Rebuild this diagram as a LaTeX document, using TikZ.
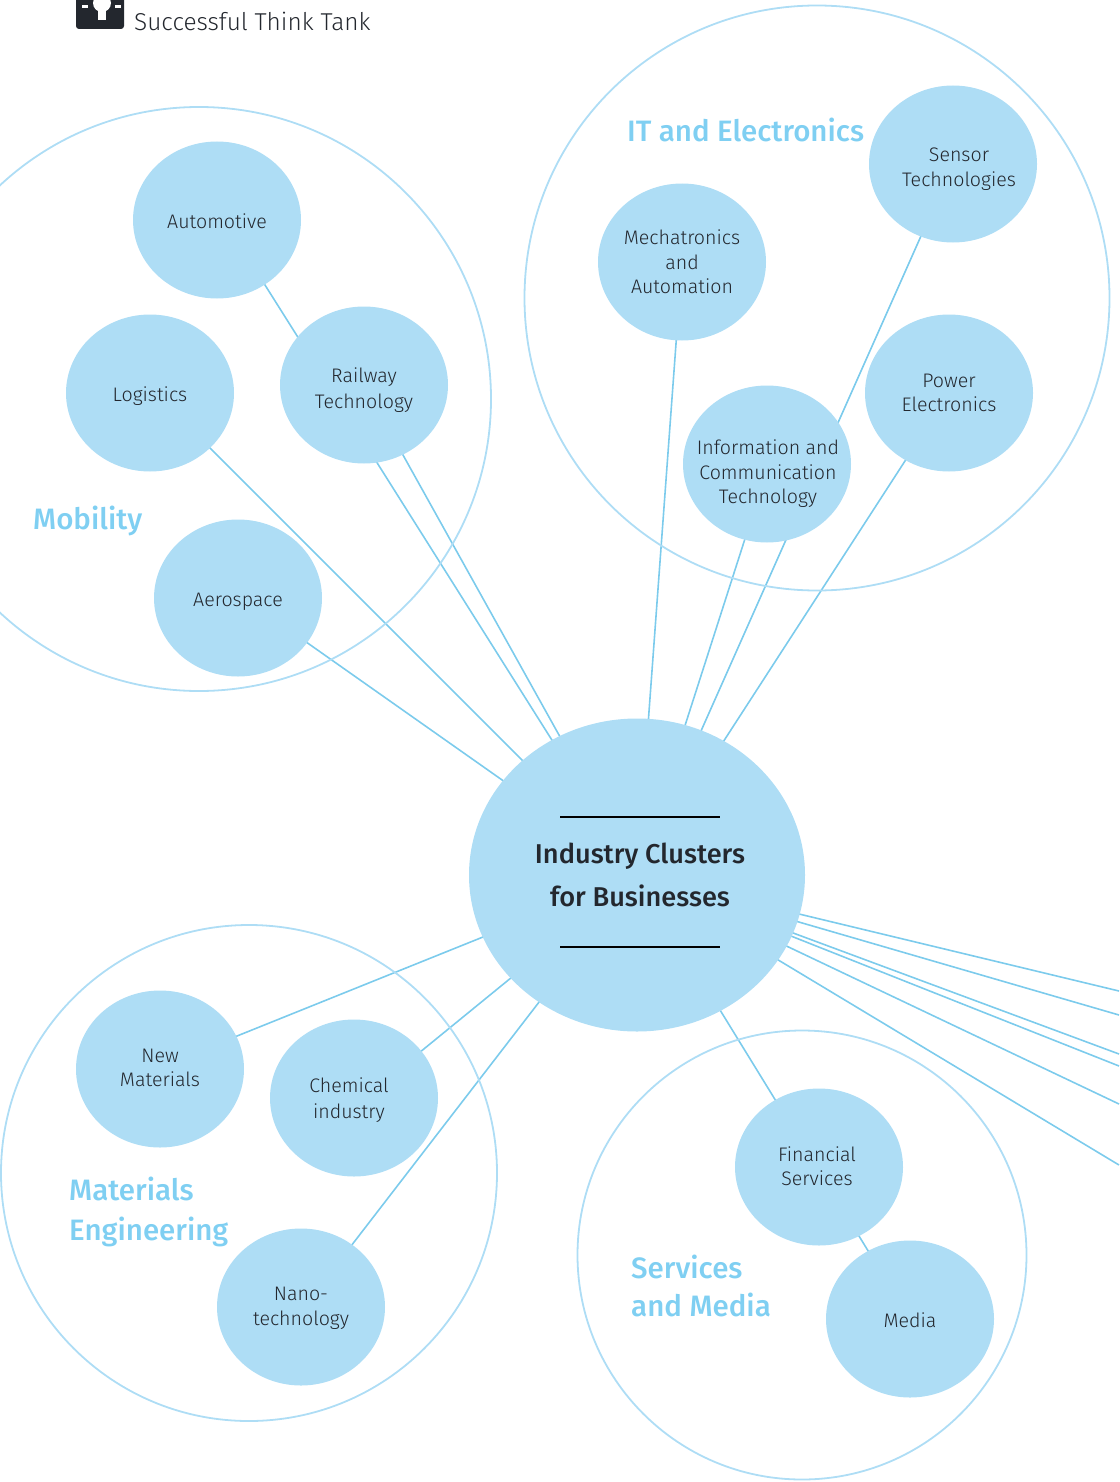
\documentclass[tikz,border=0pt]{standalone}
\usepackage{fontspec}
\setmainfont{Fira Sans Light}[BoldFont={Fira Sans Medium}]
\usetikzlibrary{shapes.geometric,positioning,backgrounds}
\definecolor{clusterblue}{HTML}{AEDDF5}
\definecolor{linkblue}{HTML}{7CCBEC}
\definecolor{headblue}{HTML}{7FCFF2}
\definecolor{inkdark}{HTML}{23272E}
\tikzset{
    topic/.style = {ellipse, fill=clusterblue, inner sep=0pt, minimum width=168pt, minimum height=157pt},
    topictext/.style = {align=center, text=inkdark, inner sep=0pt, font=\fontsize{19.6}{24.5}\selectfont},
    hubnode/.style = {ellipse, fill=clusterblue, inner sep=0pt, minimum width=336pt, minimum height=313pt},
    hubtext/.style = {align=center, text=inkdark, inner sep=0pt, font=\fontsize{27.2}{43}\selectfont\bfseries},
    ring/.style = {circle, draw=clusterblue, line width=1.8pt, inner sep=0pt},
    link/.style = {draw=linkblue, line width=1.6pt},
    head/.style = {align=left, text=headblue, anchor=west, inner sep=0pt, font=\fontsize{29.5}{39.5}\selectfont\bfseries},
    hubrule/.style = {draw=black, line width=1.8pt}
}
\begin{document}
\begin{tikzpicture}[x=1pt,y=-1pt]
    \useasboundingbox (0,0) rectangle (1119,1482);
    % Rings of the four clusters
    \node[ring,minimum size=584pt] (ringmobility) at (199,399) {};
    \node[ring,minimum size=585pt] (ringit) at (817,298) {};
    \node[ring,minimum size=496pt] (ringmaterials) at (249,1173) {};
    \node[ring,minimum size=449pt] (ringservices) at (802,1255) {};
    % Hub and topics
    \node[hubnode,label={[hubtext,xshift=3pt]center:Industry Clusters\\for Businesses}] (hub) at (637,875) {};
    \node[topic,label={[topictext,yshift=-1pt]center:Automotive}] (automotive) at (217,220) {};
    \node[topic,label={[topictext,yshift=-3pt]center:Logistics}] (logistics) at (150,393) {};
    \node[topic,label={[topictext,yshift=-5pt,font=\fontsize{19.6}{25.5}\selectfont]center:Railway\\Technology}] (railway) at (364,385) {};
    \node[topic,label={[topictext,yshift=-4pt]center:Aerospace}] (aerospace) at (238,598) {};
    \node[topic,label={[topictext]center:Mechatronics\\and\\Automation}] (mechatronics) at (682,262) {};
    \node[topic,label={[topictext,xshift=6pt,yshift=-5pt]center:Sensor\\Technologies}] (sensor) at (953,164) {};
    \node[topic,label={[topictext]center:Power\\Electronics}] (power) at (949,393) {};
    \node[topic,label={[topictext,xshift=1pt,yshift=-10pt]center:Information and\\Communication\\Technology}] (ict) at (767,464) {};
    \node[topic,label={[topictext,yshift=1pt]center:New\\Materials}] (newmaterials) at (160,1069) {};
    \node[topic,label={[topictext,xshift=-5pt,yshift=-2pt,font=\fontsize{19.6}{26}\selectfont]center:Chemical\\industry}] (chemical) at (354,1098) {};
    \node[topic,label={[topictext,yshift=-1.5pt]center:Nano-\\technology}] (nano) at (301,1307) {};
    \node[topic,label={[topictext,xshift=-2pt,yshift=1pt]center:Financial\\Services}] (financial) at (819,1167) {};
    \node[topic,label={[topictext,yshift=-1pt]center:Media}] (media) at (910,1319) {};
    % Free ends on the right edge
    \coordinate (off1) at (1119,991);
    \coordinate (off2) at (1119,1015);
    \coordinate (off3) at (1119,1054);
    \coordinate (off4) at (1119,1066);
    \coordinate (off5) at (1119,1104);
    \coordinate (off6) at (1119,1165);
    % Connectors run behind the nodes
    \begin{scope}[on background layer]
        \foreach \topicname/\dx/\dy in {automotive/7/0,logistics/5/0,railway/0/0,aerospace/0/-4,mechatronics/0/0,sensor/0/0,power/0/0,ict/2/0,newmaterials/0/-2,chemical/0/8,nano/3/0,media/0/0}
            \path[link] ([xshift=\dx pt,yshift=-\dy pt]\topicname.center) -- (hub.center);
        \foreach \offname in {off1,off2,off3,off4,off5,off6}
            \path[link] (hub.center) -- (\offname);
    \end{scope}
    \draw[hubrule] (560,817) -- (720,817);
    \draw[hubrule] (560,947) -- (720,947);
    % Cluster headings
    \node[head] (headmobility) at (33,521) {Mobility};
    \node[head] (headit) at (627,130) {IT and Electronics};
    \node[head] (headmaterials) at (69,1212) {Materials\\Engineering};
    \node[head,font=\fontsize{29.5}{38}\selectfont\bfseries] (headservices) at (631,1286) {Services\\and Media};
    % Icon and title at the top
    \node[fill=inkdark,rounded corners=3pt,minimum width=48pt,minimum height=44pt,inner sep=0pt] (icon) at (100,7) {};
    \node[anchor=west,text=inkdark,font=\fontsize{24.4}{30}\selectfont,inner sep=0pt] (title) at (134,21) {Successful Think Tank};
    \fill[white] (102,3) circle (9pt);
    \fill[white] (98,6) rectangle (106,20);
    \fill[white] (82,5) rectangle (88,8);
    \fill[white] (115,5) rectangle (121,8);
\end{tikzpicture}
\end{document}
